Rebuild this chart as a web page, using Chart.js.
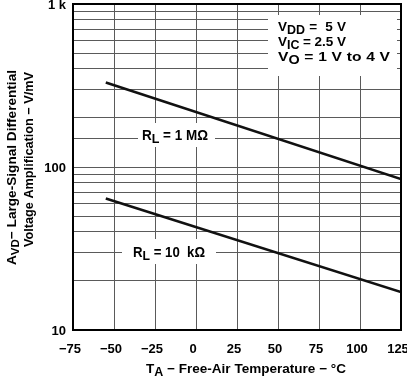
<!DOCTYPE html>
<html>
<head>
<meta charset="utf-8">
<script src="https://cdn.jsdelivr.net/npm/chart.js@4.4.0/dist/chart.umd.min.js"></script>
<style>
  html, body { margin: 0; padding: 0; background: #fff; }
  #wrap { width: 407px; height: 376px; position: relative; }
</style>
</head>
<body>
<div id="wrap"><canvas id="avdChart"></canvas></div>
<script>
// Temperature (°C) and AVD (V/mV)
const tempC = [-55, 125];
const avd1M = [330, 84.3];   // RL = 1 MΩ
const avd10k = [64, 17.1];   // RL = 10 kΩ

const xTicks = [-75, -50, -25, 0, 25, 50, 75, 100, 125];
const yLabels = { 10: '10', 100: '100', 1000: '1 k' };

const FONT = '"Liberation Sans", Arial, Helvetica, sans-serif';

// text made of [string, isSubscript] pieces
function richWidth(ctx, parts, size, subSize) {
    let w = 0;
    parts.forEach(([t, sub]) => {
        ctx.font = `bold ${sub ? subSize : size}px ${FONT}`;
        w += ctx.measureText(t).width;
    });
    return w;
}
// draws rich text from x to width w; with sx set, glyphs are stretched by sx
// and the remaining width goes into the spaces, otherwise it is all stretch
function drawRich(ctx, parts, x, y, w, size = 13, subSize = 11, sx = 0) {
    const nat = richWidth(ctx, parts, size, subSize);
    const nSpaces = parts.reduce((n, [t]) => n + (t.match(/ /g) || []).length, 0);
    const scaleX = sx || w / nat;
    const gap = sx && nSpaces ? (w / sx - nat) / nSpaces : 0;
    ctx.save();
    ctx.translate(x, y);
    ctx.scale(scaleX, 1);
    let cx = 0;
    parts.forEach(([t, sub]) => {
        ctx.font = `bold ${sub ? subSize : size}px ${FONT}`;
        t.split(/( )/).forEach(chunk => {
            if (!chunk) return;
            ctx.fillText(chunk, cx, sub ? 3 : 0);
            cx += ctx.measureText(chunk).width + (chunk === ' ' ? gap : 0);
        });
    });
    ctx.restore();
}

const annotations = {
    id: 'annotations',
    afterDatasetsDraw(chart) {
        const ctx = chart.ctx;
        const a = chart.chartArea;
        ctx.save();
        // white boxes behind labels
        ctx.fillStyle = '#fff';
        ctx.fillRect(268, 15, 129, 61);
        ctx.fillRect(138, 123, 77, 24);
        ctx.fillRect(122, 239, 94, 25);

        ctx.fillStyle = '#000';
        ctx.textBaseline = 'alphabetic';
        ctx.textAlign = 'left';
        drawRich(ctx, [['V'], ['DD', 1], [' =  5 V']], 278, 31, 68, 13, 12, 1.04);
        drawRich(ctx, [['V'], ['IC', 1], [' = 2.5 V']], 278, 45.5, 68, 13, 12, 1.04);
        drawRich(ctx, [['V'], ['O', 1], [' = 1 V to 4 V']], 278, 60.5, 112, 13, 12, 1.2);
        drawRich(ctx, [['R'], ['L', 1], [' = 1 M\u03A9']], 142, 140, 66, 14, 13);
        drawRich(ctx, [['R'], ['L', 1], [' = 10  k\u03A9']], 133, 257, 72, 14, 13);

        // frame
        ctx.strokeStyle = '#000';
        ctx.lineWidth = 2;
        ctx.strokeRect(a.left, a.top, a.right - a.left, a.bottom - a.top);

        // x axis title
        drawRich(ctx, [['T'], ['A', 1], [' \u2212 Free-Air Temperature \u2212 \u00B0C']], 146, 372.5, 200, 13, 12);

        // y axis titles, rotated
        ctx.save();
        ctx.translate(15.5, 265);
        ctx.rotate(-Math.PI / 2);
        drawRich(ctx, [['A'], ['VD', 1], ['\u2212 Large-Signal Differential']], 0, 0, 195);
        ctx.restore();
        ctx.save();
        ctx.translate(33, 247);
        ctx.rotate(-Math.PI / 2);
        drawRich(ctx, [['Voltage Amplification \u2212 V/mV']], 0, 0, 175);
        ctx.restore();
        ctx.restore();
    }
};

const makeSeries = (ys) => tempC.map((t, i) => ({ x: t, y: ys[i] }));

new Chart(document.getElementById('avdChart').getContext('2d'), {
    type: 'scatter',
    data: {
        datasets: [
            { data: makeSeries(avd1M), showLine: true, borderColor: '#111', borderWidth: 2.6, pointRadius: 0 },
            { data: makeSeries(avd10k), showLine: true, borderColor: '#111', borderWidth: 2.6, pointRadius: 0 }
        ]
    },
    options: {
        responsive: true,
        maintainAspectRatio: false,
        animation: false,
        layout: { padding: { left: 0, top: 4, right: 6, bottom: 0 } },
        plugins: { legend: { display: false }, tooltip: { enabled: false } },
        scales: {
            x: {
                type: 'linear',
                min: -75,
                max: 125,
                afterBuildTicks: (s) => { s.ticks = xTicks.map(v => ({ value: v })); },
                afterFit: (s) => { s.height = 46; s.paddingRight = 6; s.paddingLeft = 0; },
                grid: { color: '#5a5a5a', lineWidth: 1, drawTicks: false },
                border: { display: false },
                ticks: {
                    padding: 12,
                    labelOffset: -3,
                    color: '#000',
                    font: { family: FONT, size: 13, weight: 'bold' },
                    maxRotation: 0,
                    callback: (v) => v < 0 ? '\u2212' + Math.abs(v) : String(v)
                }
            },
            y: {
                type: 'logarithmic',
                min: 10,
                max: 1000,
                afterFit: (s) => { s.width = 73; s.paddingTop = 4; s.paddingBottom = 0; },
                grid: { color: '#5a5a5a', lineWidth: 1, drawTicks: false },
                border: { display: false },
                ticks: {
                    autoSkip: false,
                    padding: 7,
                    labelOffset: 1.5,
                    color: '#000',
                    font: { family: FONT, size: 13, weight: 'bold' },
                    callback: (v) => yLabels[v] || ''
                }
            }
        }
    },
    plugins: [annotations]
});
</script>
</body>
</html>
